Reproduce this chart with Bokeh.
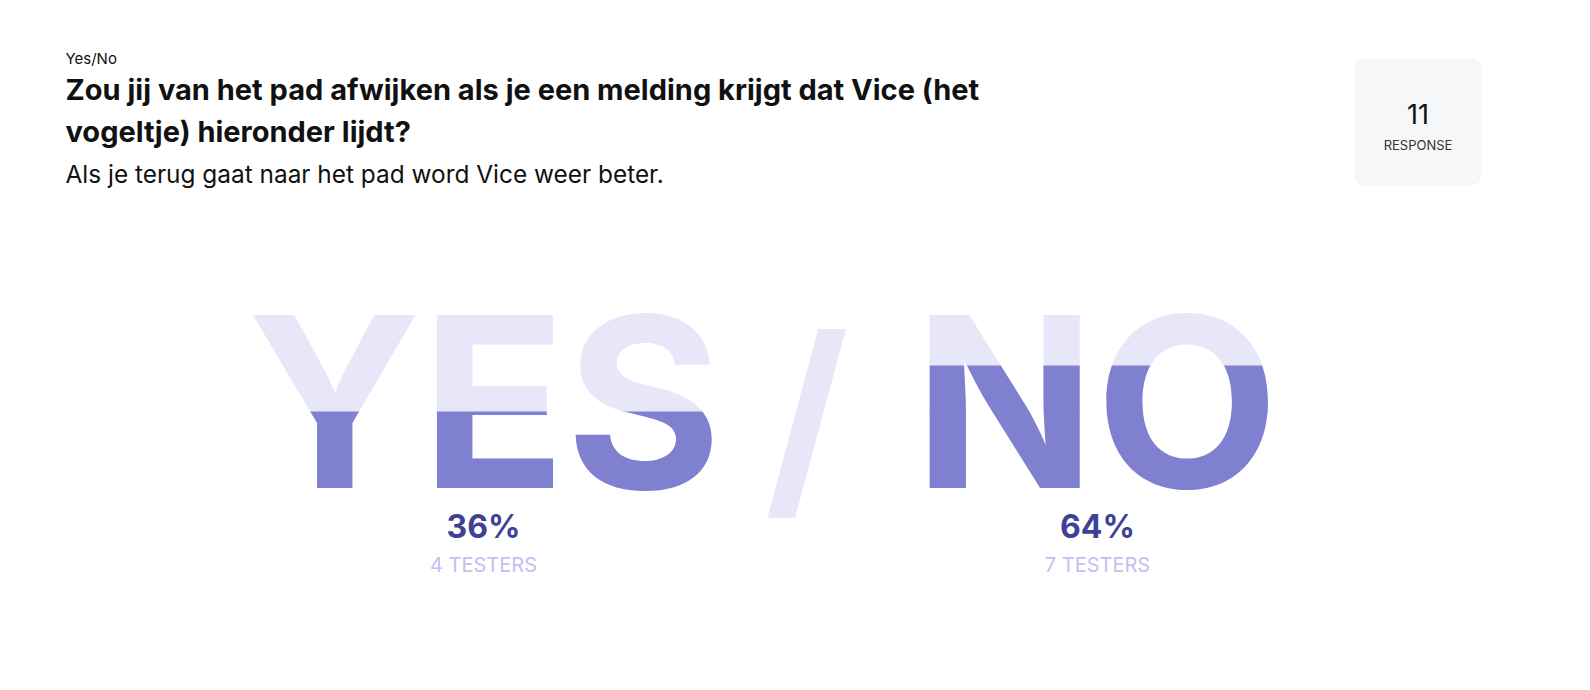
from bokeh.plotting import figure
from bokeh.layouts import column, row
from bokeh.models import ColumnDataSource, Range1d
from bokeh.core.properties import value
from bokeh.embed import file_html
from bokeh.resources import INLINE

# ---------------- data ----------------
question_type = "Yes/No"
title_lines = ["Zou jij van het pad afwijken als je een melding krijgt dat Vice (het",
               "vogeltje) hieronder lijdt?"]
subtitle = "Als je terug gaat naar het pad word Vice weer beter."
answers = ["YES", "NO"]
counts = [4, 7]
total_responses = 11
response_label = "RESPONSE"

# ---------------- layout / style ----------------
W, H = 1590, 690
LIGHT = "#e8e7f9"
DARK = "#7f80cf"
PCT_COLOR = "#3f4194"
TESTER_COLOR = "#c3c0f2"
INK = "#111111"
BIG_FONT = "Inter"
FONT = "Inter"
K = 0.37  # empirical offset of the drawn baseline (in em)

word_cx = [484, 1096]
label_cx = [483, 1097]
baseline = 489
big_size = 238
slash_x, slash_base, slash_size = 806, 495, 217
FILL_BOTTOM, FILL_SPAN = 473.0, 168.0
XS = 730
OV = 1  # overlap (px) of neighbouring bands, hides seams

pcts = [c / total_responses for c in counts]
fill_ys = [int(round(FILL_BOTTOM - p * FILL_SPAN)) for p in pcts]
pct_labels = [f"{round(100 * p)}%" for p in pcts]
tester_labels = [f"{c} TESTERS" for c in counts]


def by(base, size):
    return base - K * size


def txt(p, x, y, s, size, color, font=FONT, style="normal", align="left"):
    p.text(x=[x], y=[by(y, size)], text=[s], text_font=value(font),
           text_font_size=f"{size}px", text_font_style=style, text_color=color,
           text_align=align, text_baseline="alphabetic")


def make_fig(x0, x1, y0, y1, colors, margin_top):
    p = figure(width=x1 - x0, height=y1 - y0, x_range=Range1d(x0, x1),
               y_range=Range1d(y1, y0), output_backend="svg", toolbar_location=None,
               title=None, min_border=0, x_axis_location=None, y_axis_location=None,
               outline_line_color=None, background_fill_color=None,
               border_fill_color=None, margin=(margin_top, 0, 0, 0))
    p.grid.visible = False

    # header
    txt(p, 65, 64, question_type, 15, INK)
    txt(p, 65, 100, title_lines[0], 29, INK, style="bold")
    txt(p, 65, 142, title_lines[1], 29, INK, style="bold")
    txt(p, 65, 183, subtitle, 24.4, INK)

    # response box
    p.quad(left=[1354], right=[1481], top=[58], bottom=[185], fill_color="#f6f7f9",
           line_color=None, border_radius=10)
    txt(p, 1417.5, 123, str(total_responses), 27, INK, align="center")
    txt(p, 1417.5, 149, response_label, 13, "#333333", align="center")

    # big words
    src = ColumnDataSource(dict(x=word_cx, y=[by(baseline, big_size)] * len(answers),
                                t=answers, c=colors))
    p.text(x="x", y="y", text="t", text_color="c", source=src, text_font=value(BIG_FONT),
           text_font_size=f"{big_size}px", text_font_style="bold", text_align="center",
           text_baseline="alphabetic")
    txt(p, slash_x, slash_base, "/", slash_size, LIGHT, font=FONT, style="bold", align="center")

    # labels
    lsrc = ColumnDataSource(dict(x=label_cx, y1=[by(538, 32)] * len(answers),
                                 y2=[by(572, 20)] * len(answers),
                                 a=pct_labels, b=tester_labels))
    p.text(x="x", y="y1", text="a", source=lsrc, text_font=value(FONT), text_font_size="32px",
           text_font_style="bold", text_color=PCT_COLOR, text_align="center",
           text_baseline="alphabetic")
    p.text(x="x", y="y2", text="b", source=lsrc, text_font=value(FONT), text_font_size="20px",
           text_color=TESTER_COLOR, text_align="center", text_baseline="alphabetic")
    return p


cuts = sorted(set([0, H] + fill_ys))
rows = []
nb = len(cuts) - 1
for i, (y0, y1) in enumerate(zip(cuts[:-1], cuts[1:])):
    cols = [DARK if y0 >= f else LIGHT for f in fill_ys]
    e0 = y0 - OV if i > 0 else y0
    e1 = y1 + OV if i < nb - 1 else y1
    mt = -2 * OV if i > 0 else 0
    if len(set(cols)) == 1:
        rows.append(make_fig(0, W, e0, e1, cols, mt))
    else:
        rows.append(row(make_fig(0, XS, e0, e1, cols, 0), make_fig(XS, W, e0, e1, cols, 0),
                        spacing=0, margin=(mt, 0, 0, 0)))

layout = column(*rows, spacing=0)
open("out.html", "w").write(file_html(layout, INLINE))
